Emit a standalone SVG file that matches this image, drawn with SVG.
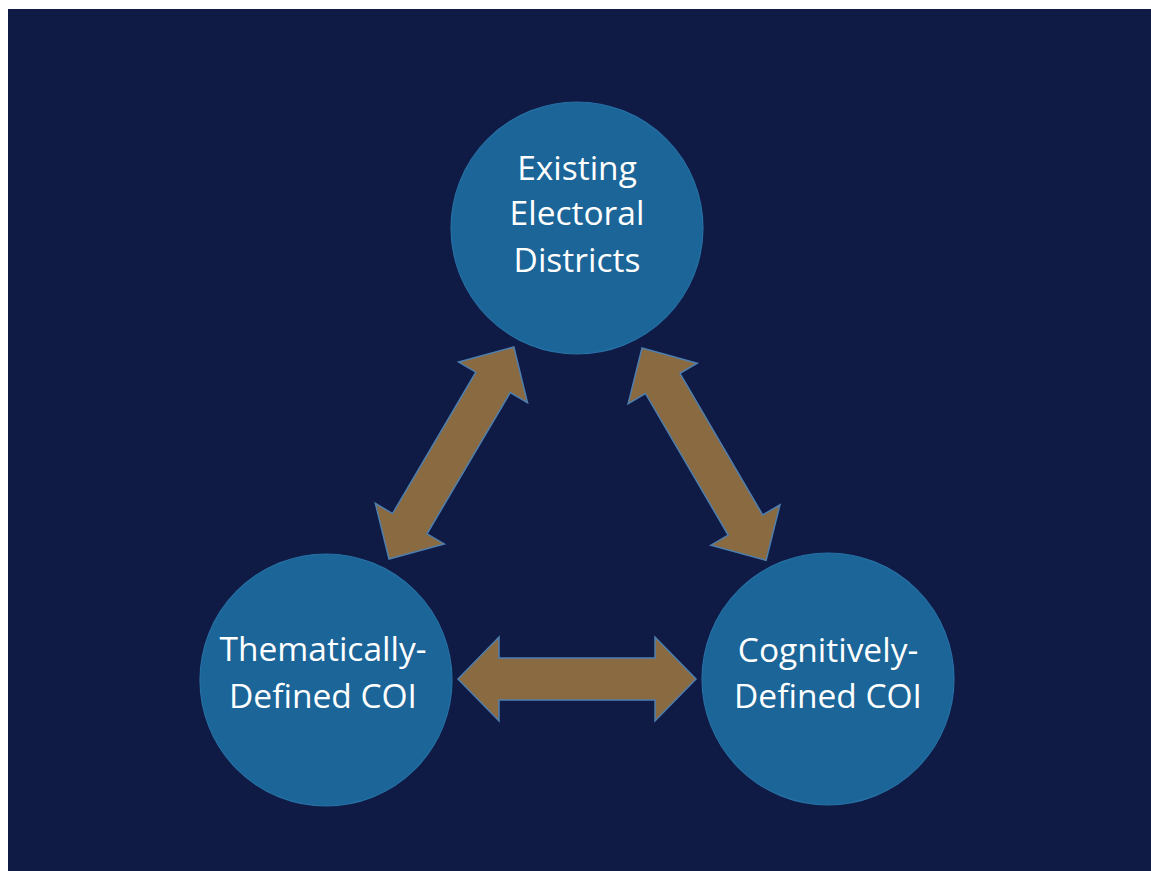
<svg xmlns="http://www.w3.org/2000/svg" width="1151" height="871" viewBox="0 0 1151 871">
  <style>
    .node circle { fill: #1b6598; stroke: #2670a4; stroke-width: 1.2; }
    .label { font-family: "Open Sans", "Liberation Sans", sans-serif; font-size: 33.5px; fill: #ffffff; text-anchor: middle; }
    .arrow { fill: #8a6a41; stroke: #4f7fae; stroke-width: 1.5; stroke-linejoin: miter; }
  </style>
  <rect x="0" y="0" width="1151" height="871" fill="#ffffff"/>
  <rect x="8" y="9" width="1143" height="862" fill="#0f1a45"/>

  <g id="connectors">
    <path class="arrow" transform="translate(458,679)" d="M0,0 L41,-42 L41,-21 L197,-21 L197,-42 L238,0 L197,42 L197,21 L41,21 L41,42 Z"/>
    <path class="arrow" transform="translate(389,559) rotate(-59.5)" d="M0,0 L41,-40 L41,-20 L205,-20 L205,-40 L246,0 L205,40 L205,20 L41,20 L41,40 Z"/>
    <path class="arrow" transform="translate(642,348) rotate(59.7)" d="M0,0 L41,-40 L41,-20 L205,-20 L205,-40 L246,0 L205,40 L205,20 L41,20 L41,40 Z"/>
  </g>

  <g id="node-existing" class="node">
    <circle cx="577" cy="228" r="126"/>
    <text class="label" x="577" y="180">Existing</text>
    <text class="label" x="577" y="225">Electoral</text>
    <text class="label" x="577" y="272">Districts</text>
  </g>
  <g id="node-thematic" class="node">
    <circle cx="326" cy="680" r="126"/>
    <text class="label" x="323" y="661">Thematically-</text>
    <text class="label" x="323" y="708">Defined COI</text>
  </g>
  <g id="node-cognitive" class="node">
    <circle cx="828" cy="679" r="126"/>
    <text class="label" x="828" y="662">Cognitively-</text>
    <text class="label" x="828" y="708">Defined COI</text>
  </g>
</svg>
